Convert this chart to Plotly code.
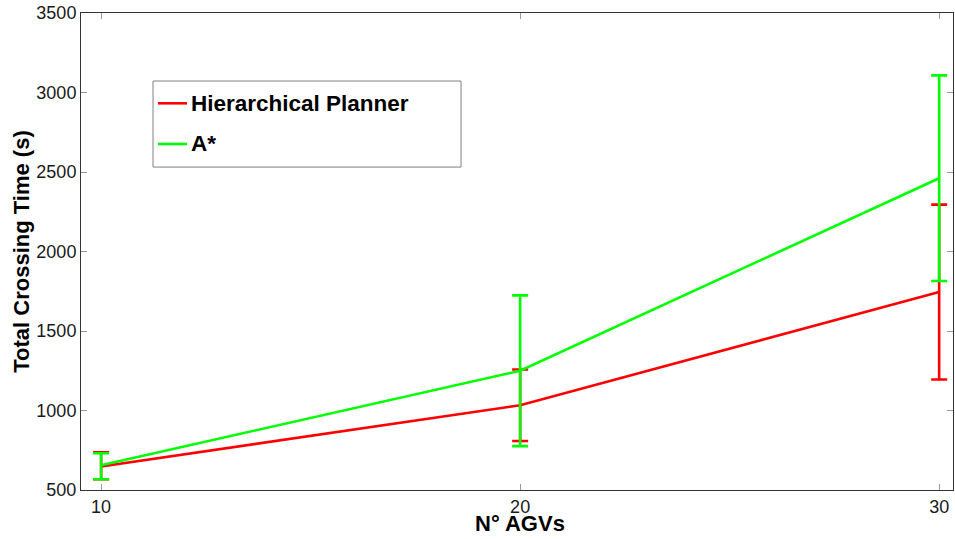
import plotly.graph_objects as go

# Number of AGVs in each scenario
agvs = [10, 20, 30]

# Mean total crossing time (s) with upper / lower deviation for each planner
hier_mean = [648, 1033, 1745]
hier_err_plus = [89, 225, 550]
hier_err_minus = [80, 225, 550]

astar_mean = [656, 1250, 2461]
astar_err_plus = [75, 474, 647]
astar_err_minus = [88, 474, 647]

series_names = ["Hierarchical Planner", "A*"]
series_colors = ["#ff0000", "#00ff00"]

FONT = "Liberation Sans, Arial, Helvetica, sans-serif"

fig = go.Figure()

for name, mean, ep, em, color in zip(series_names,
                                     [hier_mean, astar_mean],
                                     [hier_err_plus, astar_err_plus],
                                     [hier_err_minus, astar_err_minus],
                                     series_colors):
    fig.add_trace(go.Scatter(
        x=agvs, y=mean, mode="lines", name=name,
        line=dict(color=color, width=2.6),
        error_y=dict(type="data", symmetric=False, array=ep, arrayminus=em,
                     visible=True, color=color, thickness=2.6, width=8),
        showlegend=False,
    ))

# Boxed legend in the upper-left of the axes
lg_x0, lg_x1, lg_y0, lg_y1 = 0.0826, 0.4358, 0.677, 0.8574
fig.add_shape(type="rect", xref="paper", yref="paper",
              x0=lg_x0, x1=lg_x1, y0=lg_y0, y1=lg_y1,
              line=dict(color="#808080", width=1), fillcolor="white",
              layer="above")
for i, (name, color) in enumerate(zip(series_names, series_colors)):
    yy = [0.8107, 0.7254][i]
    fig.add_shape(type="line", xref="paper", yref="paper",
                  x0=0.0883, x1=0.1216, y0=yy, y1=yy,
                  line=dict(color=color, width=2.6), layer="above")
    fig.add_annotation(xref="paper", yref="paper", x=0.1240, y=yy,
                       xanchor="left", yanchor="middle", showarrow=False,
                       text="<b>%s</b>" % name,
                       font=dict(family=FONT, size=22.5, color="black"))

# x-axis title placed just under the tick labels
fig.add_annotation(xref="paper", yref="paper", x=(520 - 81) / 872, y=-0.045,
                   xanchor="center", yanchor="top", showarrow=False,
                   yshift=2,
                   text="<b>N° AGVs</b>",
                   font=dict(family=FONT, size=22, color="black"))

axis_common = dict(
    showgrid=False, zeroline=False,
    showline=True, linecolor="#333333", linewidth=1, mirror="ticks",
    ticks="inside", ticklen=6, tickcolor="#9a9a9a", tickwidth=1,
    tickfont=dict(family=FONT, size=18, color="#1a1a1a"),
)

fig.update_layout(
    width=955, height=539,
    margin=dict(l=81, r=2, t=13, b=49),
    paper_bgcolor="white", plot_bgcolor="white",
    xaxis=dict(range=[9.52, 30.33], tickvals=agvs,
               automargin=False, **axis_common),
    yaxis=dict(range=[500, 3500], tickvals=list(range(500, 3501, 500)),
               title=dict(text="<b>Total Crossing Time (s)</b>", standoff=0,
                          font=dict(family=FONT, size=22, color="black")),
               automargin=False, **axis_common),
)

fig.write_html("out.html")
